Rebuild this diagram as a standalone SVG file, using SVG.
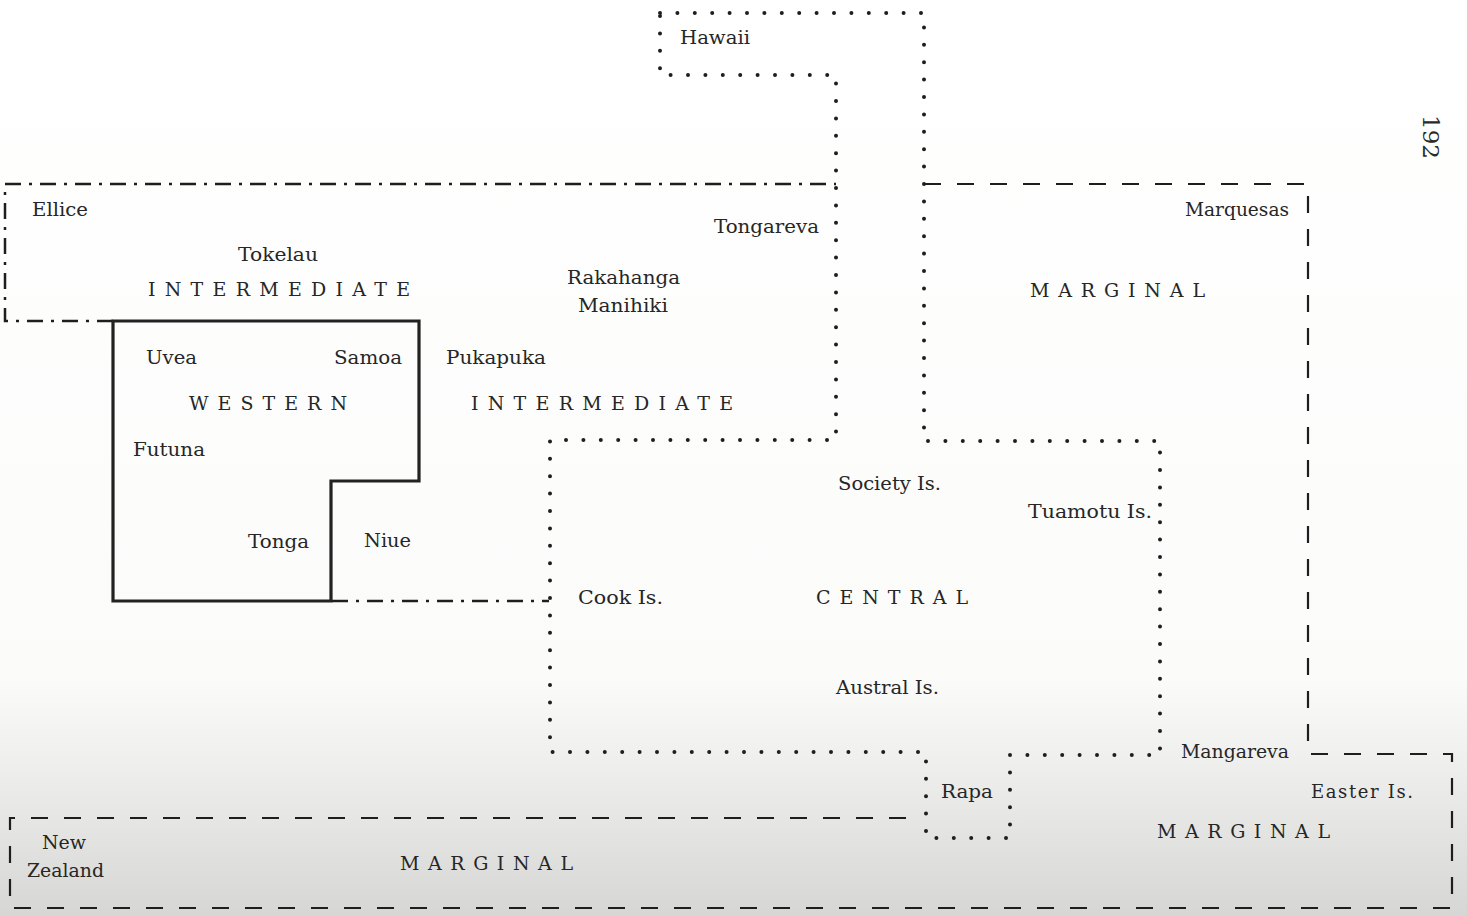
<svg xmlns="http://www.w3.org/2000/svg" width="1467" height="916" viewBox="0 0 1467 916">
  <defs>
    <linearGradient id="paper" x1="0" y1="0" x2="0" y2="1">
      <stop offset="0" stop-color="#ffffff"/>
      <stop offset="0.74" stop-color="#fbfbfa"/>
      <stop offset="0.86" stop-color="#ebebea"/>
      <stop offset="1" stop-color="#d6d6d4"/>
    </linearGradient>
    <style>
      .lbl { font-family: "DejaVu Serif", "Liberation Serif", serif; font-size: 18px; fill: #262626; }
      .cap { font-family: "DejaVu Serif", "Liberation Serif", serif; font-size: 19px; fill: #262626; }
      .dotted { fill: none; stroke: #1e1e1e; stroke-width: 4; stroke-linecap: round; stroke-dasharray: 0 17.4; }
      .dashdot { fill: none; stroke: #1e1e1e; stroke-width: 2.5; stroke-dasharray: 16 8 3 8; }
      .dashed { fill: none; stroke: #1e1e1e; stroke-width: 2.2; stroke-dasharray: 17 16; }
      .solid { fill: none; stroke: #222; stroke-width: 3.2; stroke-linejoin: miter; }
    </style>
  </defs>
  <rect x="0" y="0" width="1467" height="916" fill="url(#paper)"/>

  <g id="connectors">
    <path id="central-boundary" class="dotted" d="M660,13 H924 V441 H1160 V755 H1010 V838 H926 V752 H550 V440 H836 V75 H660 Z"/>
    <path id="intermediate-boundary" class="dashdot" d="M113,321 H5 V184 H836"/>
    <path id="intermediate-boundary-south" class="dashdot" d="M332,601 H549"/>
    <path id="marginal-boundary" class="dashed" d="M924,184 H1308 V754 H1452 V908 H10 V818 H922"/>
  </g>

  <g id="western">
    <path class="solid" d="M113,321 H419 V481 H331 V601 H113 Z"/>
    <text class="cap" x="189" y="410" textLength="158" lengthAdjust="spacing">WESTERN</text>
    <text class="lbl" x="146" y="364" textLength="51" lengthAdjust="spacingAndGlyphs">Uvea</text>
    <text class="lbl" x="334" y="364" textLength="68" lengthAdjust="spacingAndGlyphs">Samoa</text>
    <text class="lbl" x="133" y="456" textLength="72" lengthAdjust="spacingAndGlyphs">Futuna</text>
    <text class="lbl" x="248" y="548" textLength="61" lengthAdjust="spacingAndGlyphs">Tonga</text>
  </g>

  <g id="intermediate">
    <text class="cap" x="148" y="296" textLength="262" lengthAdjust="spacing">INTERMEDIATE</text>
    <text class="cap" x="471" y="410" textLength="262" lengthAdjust="spacing">INTERMEDIATE</text>
    <text class="lbl" x="32" y="216" textLength="56" lengthAdjust="spacingAndGlyphs">Ellice</text>
    <text class="lbl" x="238" y="261" textLength="80" lengthAdjust="spacingAndGlyphs">Tokelau</text>
    <text class="lbl" x="714" y="233" textLength="105" lengthAdjust="spacingAndGlyphs">Tongareva</text>
    <text class="lbl" x="567" y="284" textLength="113" lengthAdjust="spacingAndGlyphs">Rakahanga</text>
    <text class="lbl" x="578" y="312" textLength="90" lengthAdjust="spacingAndGlyphs">Manihiki</text>
    <text class="lbl" x="446" y="364" textLength="100" lengthAdjust="spacingAndGlyphs">Pukapuka</text>
    <text class="lbl" x="364" y="547" textLength="47" lengthAdjust="spacingAndGlyphs">Niue</text>
  </g>

  <g id="central">
    <text class="lbl" x="680" y="44" textLength="70" lengthAdjust="spacingAndGlyphs">Hawaii</text>
    <text class="cap" x="816" y="604" textLength="152" lengthAdjust="spacing">CENTRAL</text>
    <text class="lbl" x="838" y="490" textLength="103" lengthAdjust="spacingAndGlyphs">Society Is.</text>
    <text class="lbl" x="1028" y="518" textLength="124" lengthAdjust="spacingAndGlyphs">Tuamotu Is.</text>
    <text class="lbl" x="578" y="604" textLength="85" lengthAdjust="spacingAndGlyphs">Cook Is.</text>
    <text class="lbl" x="836" y="694" textLength="103" lengthAdjust="spacingAndGlyphs">Austral Is.</text>
    <text class="lbl" x="941" y="798" textLength="52" lengthAdjust="spacingAndGlyphs">Rapa</text>
  </g>

  <g id="marginal">
    <text class="cap" x="1030" y="297" textLength="175" lengthAdjust="spacing">MARGINAL</text>
    <text class="cap" x="1157" y="838" textLength="173" lengthAdjust="spacing">MARGINAL</text>
    <text class="cap" x="400" y="870" textLength="173" lengthAdjust="spacing">MARGINAL</text>
    <text class="lbl" x="1185" y="216" textLength="104" lengthAdjust="spacingAndGlyphs">Marquesas</text>
    <text class="lbl" x="1181" y="758" textLength="108" lengthAdjust="spacingAndGlyphs">Mangareva</text>
    <text class="lbl" x="1311" y="798" textLength="102" lengthAdjust="spacing">Easter Is.</text>
    <text class="lbl" x="42" y="849" textLength="44" lengthAdjust="spacingAndGlyphs">New</text>
    <text class="lbl" x="27" y="877" textLength="77" lengthAdjust="spacingAndGlyphs">Zealand</text>
  </g>

  <g id="page-number">
    <text x="1423" y="115" transform="rotate(90 1423 115)" style="font-family: 'DejaVu Serif', 'Liberation Serif', serif; font-size: 23px; fill: #2a2a2a;">192</text>
  </g>
</svg>
